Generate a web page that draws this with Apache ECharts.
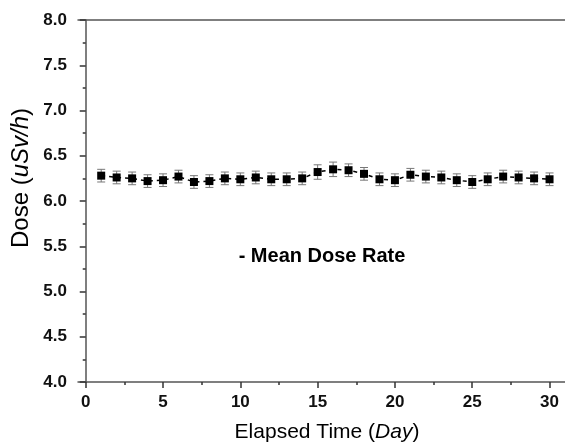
<!DOCTYPE html>
<html>
<head>
<meta charset="utf-8">
<script src="https://cdn.jsdelivr.net/npm/echarts@6/dist/echarts.min.js"></script>
<style>html,body{margin:0;padding:0;background:#fff}#c{width:565px;height:445px}</style>
</head>
<body>
<div id="c"></div>
<script>
var days = [1,2,3,4,5,6,7,8,9,10,11,12,13,14,15,16,17,18,19,20,21,22,23,24,25,26,27,28,29,30];
var dose = [6.28,6.26,6.25,6.22,6.23,6.27,6.21,6.22,6.25,6.24,6.26,6.24,6.24,6.25,6.32,6.35,6.34,6.30,6.24,6.23,6.29,6.27,6.26,6.23,6.21,6.24,6.27,6.26,6.25,6.24];
var err = [0.07,0.07,0.07,0.07,0.07,0.07,0.07,0.07,0.07,0.07,0.07,0.07,0.07,0.07,0.08,0.08,0.07,0.07,0.07,0.07,0.07,0.07,0.07,0.07,0.07,0.07,0.07,0.07,0.07,0.07];
var xMajor = [0,5,10,15,20,25,30];
var xMinor = [2.5,7.5,12.5,17.5,22.5,27.5];
var legendText = '- Mean Dose Rate';

var font = 'Liberation Sans, Arial, sans-serif';
var chart = echarts.init(document.getElementById('c'), null, {renderer:'canvas'});
var lineData = days.map(function(d,i){return [d, dose[i]];});
var errData = days.map(function(d,i){return [d, dose[i]-err[i], dose[i]+err[i]];});

chart.setOption({
  animation:false,
  grid:{left:78, top:20, right:0, bottom:63, containLabel:false},
  xAxis:[{
    type:'value', min:-0.5, max:31, position:'bottom',
    axisLine:{show:true, lineStyle:{color:'#555', width:1.5}},
    axisTick:{show:true, inside:false, length:6, customValues:xMajor, lineStyle:{color:'#333', width:1.5}},
    axisLabel:{show:true, customValues:xMajor, margin:12, fontFamily:font, fontWeight:'bold', fontSize:17, color:'#111'},
    splitLine:{show:false}
  },{
    type:'value', min:-0.5, max:31, position:'bottom',
    axisLine:{show:false},
    axisTick:{show:true, inside:false, length:3, customValues:xMinor, lineStyle:{color:'#333', width:1.5}},
    axisLabel:{show:false},
    splitLine:{show:false}
  },{
    type:'value', min:-0.5, max:31, position:'top',
    axisLine:{show:true, lineStyle:{color:'#555', width:1.5}},
    axisTick:{show:false}, axisLabel:{show:false}, splitLine:{show:false}
  }],
  yAxis:{
    type:'value', min:4, max:8, interval:0.5,
    axisLine:{show:true, lineStyle:{color:'#555', width:1.5}},
    axisTick:{show:true, inside:false, length:6, lineStyle:{color:'#333', width:1.5}},
    minorTick:{show:true, splitNumber:2, length:3, lineStyle:{color:'#333', width:1.5}},
    axisLabel:{margin:11, fontFamily:font, fontWeight:'bold', fontSize:17, color:'#111',
      formatter:function(v){return v.toFixed(1);}},
    splitLine:{show:false}
  },
  series:[{
    type:'custom', xAxisIndex:0,
    data:errData,
    renderItem:function(params, api){
      var x = api.value(0);
      var lo = api.coord([x, api.value(1)]);
      var hi = api.coord([x, api.value(2)]);
      var hw = 4;
      var st = {stroke:'#777', lineWidth:1};
      return {type:'group', children:[
        {type:'line', shape:{x1:lo[0], y1:lo[1], x2:hi[0], y2:hi[1]}, style:st},
        {type:'line', shape:{x1:lo[0]-hw, y1:lo[1], x2:lo[0]+hw, y2:lo[1]}, style:st},
        {type:'line', shape:{x1:hi[0]-hw, y1:hi[1], x2:hi[0]+hw, y2:hi[1]}, style:st}
      ]};
    },
    z:1
  },{
    type:'line', xAxisIndex:0,
    data:lineData,
    symbol:'rect', symbolSize:8,
    itemStyle:{color:'#000'},
    lineStyle:{color:'#000', width:1.5, type:[4,4]},
    z:3
  }],
  graphic:[{
    type:'text', x:322, y:256,
    style:{text:legendText, font:'bold 20px Liberation Sans, Arial, sans-serif', fill:'#000', align:'center', verticalAlign:'middle'}
  },{
    type:'text', x:327, y:432,
    style:{text:'{a|Elapsed Time (}{b|Day}{a|)}', align:'center', verticalAlign:'middle',
      rich:{a:{fontFamily:font, fontSize:21, color:'#111'}, b:{fontFamily:font, fontSize:21, fontStyle:'italic', color:'#111'}}}
  },{
    type:'text', x:21, y:178, rotation:Math.PI/2,
    style:{text:'{a|Dose (}{b|uSv/h}{a|)}', align:'center', verticalAlign:'middle',
      rich:{a:{fontFamily:font, fontSize:24, color:'#111'}, b:{fontFamily:font, fontSize:24, fontStyle:'italic', color:'#111'}}}
  }]
});
</script>
</body>
</html>
